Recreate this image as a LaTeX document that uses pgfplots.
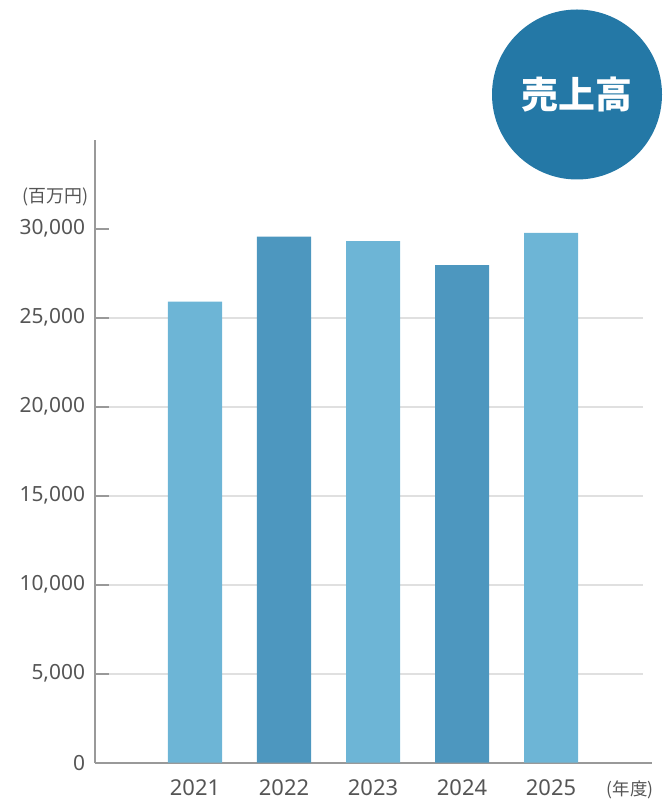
\documentclass[border=0pt]{standalone}
\usepackage{fontspec}
\setmainfont{Noto Sans}
\newfontfamily\cjk{Noto Sans CJK JP}
\usepackage{pgfplots}
\pgfplotsset{compat=1.18}

\definecolor{barlight}{HTML}{6DB5D6}
\definecolor{bardark}{HTML}{4D97BF}
\definecolor{badge}{HTML}{2478A6}
\definecolor{axisgray}{HTML}{999999}
\definecolor{gridgray}{HTML}{E0E0E0}
\definecolor{labelgray}{HTML}{555555}

\begin{document}
\begin{tikzpicture}
\useasboundingbox (0,0) rectangle (672bp,800bp);
% badge
\fill[badge] (577bp,705.5bp) circle (85bp);
\node[text=white, font=\cjk\bfseries\fontsize{37}{37}\selectfont] at (577bp,705.5bp) {売上高};

\begin{axis}[
  at={(95bp,37.3bp)}, anchor=south west,
  scale only axis, width=547.7bp, height=623bp,
  xmin=-0.1236, xmax=6.03, ymin=0, ymax=35000,
  clip=false,
  axis lines=left,
  axis line style={draw=axisgray, line width=2bp, -},
  x axis line style={shorten >=-9bp},
  xtick={1,2,3,4,5},
  xticklabels={2021,2022,2023,2024,2025},
  x tick style={draw=none},
  xticklabel style={anchor=base, inner sep=0pt, yshift=-33bp, text=labelgray,
    font=\fontsize{22}{22}\selectfont},
  ytick={5000,10000,15000,20000,25000},
  extra y ticks={0,30000},
  extra y tick style={grid=none},
  y tick style={draw=axisgray, line width=2bp},
  major tick length=14bp,
  tick align=inside,
  ymajorgrids,
  major grid style={draw=gridgray, line width=2bp},
  scaled y ticks=false,
  yticklabel style={text=labelgray, xshift=-6.5bp,
    font=\fontsize{21}{21}\selectfont},
  /pgf/number format/assume math mode=true,
  /pgf/number format/.cd, 1000 sep={,}, fixed,
]
\addplot[ybar, bar width=0.607, bar shift=0pt, fill=barlight, draw=none]
  coordinates {(1,25900) (3,29300) (5,29760)};
\addplot[ybar, bar width=0.607, bar shift=0pt, fill=bardark, draw=none]
  coordinates {(2,29550) (4,27960)};

\node[anchor=east, inner sep=0pt, xshift=-6bp, text=labelgray,
  font=\cjk\fontsize{18}{18}\selectfont] at (axis cs:-0.1236,31800) {(百万円)};
\node[anchor=base, inner sep=0pt, yshift=-33bp, text=labelgray,
  font=\cjk\fontsize{17.5}{17.5}\selectfont] at (axis cs:5.89,0) {(年度)};
\end{axis}
\end{tikzpicture}
\end{document}
